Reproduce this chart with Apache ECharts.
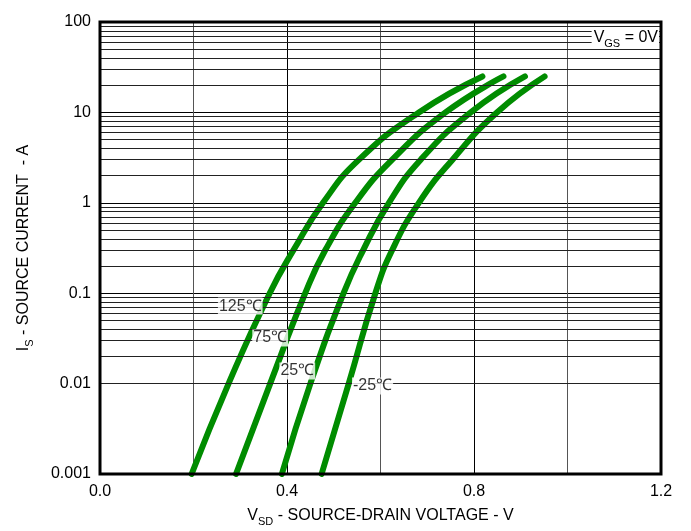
<!DOCTYPE html>
<html>
<head>
<meta charset="utf-8">
<script src="https://cdn.jsdelivr.net/npm/echarts@6/dist/echarts.min.js"></script>
<style>
  html, body { margin: 0; padding: 0; background: #fff; }
  #chart { width: 691px; height: 531px; }
</style>
</head>
<body>
<div id="chart"></div>
<script>
// Source current levels (A) at which each curve's forward voltage is given
const currents = [0.001, 0.01, 0.1, 0.3, 1, 3, 10, 25];

// Source-drain voltage (V) per junction temperature
const vsd125 = [0.196, 0.275, 0.363, 0.414, 0.477, 0.554, 0.682, 0.818];
const vsd75  = [0.291, 0.364, 0.439, 0.482, 0.546, 0.625, 0.739, 0.863];
const vsd25  = [0.389, 0.450, 0.521, 0.563, 0.618, 0.686, 0.793, 0.909];
const vsdM25 = [0.474, 0.532, 0.589, 0.625, 0.682, 0.754, 0.849, 0.951];

const curveNames = ['125℃', '75℃', '25℃', '-25℃'];
// Where each temperature tag sits on the chart: [V, A]
const tagPoints = [[0.300, 0.072], [0.364, 0.0319], [0.422, 0.01377], [0.583, 0.0094]];

const xTicks = [0, 0.4, 0.8, 1.2];
const yTicks = ['0.001', '0.01', '0.1', '1', '10', '100'];

// Minor log grid lines: 2..9 within every decade
const decades = [0.001, 0.01, 0.1, 1, 10];
const minorLevels = [];
decades.forEach(d => { for (let m = 2; m <= 9; m++) minorLevels.push(+(d * m).toPrecision(3)); });

const green = '#008c00';
const font = 'Liberation Sans, Arial, sans-serif';

function pairs(v) { return v.map((x, i) => [x, currents[i]]); }

const curveSeries = [vsd125, vsd75, vsd25, vsdM25].map((v, i) => ({
  name: curveNames[i],
  type: 'line',
  data: pairs(v),
  smooth: 0.5,
  showSymbol: false,
  symbol: 'none',
  silent: true,
  z: 3,
  lineStyle: { color: green, width: 6, cap: 'round', join: 'round' }
}));

const chart = echarts.init(document.getElementById('chart'), null, { renderer: 'canvas' });

chart.setOption({
  animation: false,
  backgroundColor: '#fff',
  grid: {
    left: 100, right: 30, top: 22, bottom: 57,
    outerBoundsMode: 'none',
    containLabel: false,
    show: true, borderColor: '#000', borderWidth: 3, backgroundColor: 'transparent', z: 10
  },
  xAxis: {
    type: 'value',
    min: 0, max: 1.2, interval: 0.4,
    axisLine: { show: false },
    axisTick: { show: false },
    axisLabel: {
      color: '#000', fontFamily: font, fontSize: 16, margin: 10,
      formatter: v => xTicks.some(t => Math.abs(t - v) < 1e-9) ? v.toFixed(1) : ''
    },
    splitLine: { show: true, lineStyle: { color: '#000', width: 1 } },
    minorTick: { show: false, splitNumber: 2 },
    minorSplitLine: { show: true, lineStyle: { color: '#555', width: 1 } },
    name: '{v|V}{sub|SD}{v| - SOURCE-DRAIN VOLTAGE - V}',
    nameLocation: 'middle',
    nameGap: 28,
    nameTextStyle: {
      color: '#000', fontFamily: font, fontSize: 16,
      rich: {
        v: { fontFamily: font, fontSize: 16, color: '#000', lineHeight: 22, verticalAlign: 'bottom' },
        sub: { fontFamily: font, fontSize: 11, color: '#000', lineHeight: 22, verticalAlign: 'bottom', padding: [0, 0, -3, 0] }
      }
    }
  },
  yAxis: {
    type: 'log',
    logBase: 10,
    min: 0.001, max: 100,
    axisLine: { show: false },
    axisTick: { show: false },
    axisLabel: {
      color: '#000', fontFamily: font, fontSize: 16, margin: 9,
      formatter: v => {
        const idx = Math.round(Math.log10(v)) + 3;
        return yTicks[idx] !== undefined ? yTicks[idx] : '';
      }
    },
    splitLine: { show: true, lineStyle: { color: '#000', width: 1 } },
    name: '{v|I}{sub|S}{v| - SOURCE CURRENT  - A}',
    nameLocation: 'middle',
    nameGap: 68,
    nameRotate: 90,
    nameTextStyle: {
      color: '#000', fontFamily: font, fontSize: 16,
      rich: {
        v: { fontFamily: font, fontSize: 16, color: '#000', lineHeight: 22, verticalAlign: 'bottom' },
        sub: { fontFamily: font, fontSize: 11, color: '#000', lineHeight: 22, verticalAlign: 'bottom', padding: [0, 0, -3, 0] }
      }
    }
  },
  series: [
    {
      name: 'minor grid',
      type: 'line',
      data: [],
      silent: true,
      z: 1,
      markLine: {
        silent: true,
        symbol: 'none',
        animation: false,
        label: { show: false },
        lineStyle: { color: '#222', width: 1, type: 'solid' },
        data: minorLevels.map(v => ({ yAxis: v }))
      }
    },
    ...curveSeries,
    {
      name: 'tags',
      type: 'scatter',
      symbolSize: 0,
      silent: true,
      z: 5,
      data: tagPoints.map((p, i) => ({ value: p, name: curveNames[i] })),
      label: {
        show: true,
        position: 'inside',
        formatter: p => p.name,
        color: '#000',
        fontFamily: font,
        fontSize: 16,
        backgroundColor: '#fff',
        padding: [1, 1, 0, 1]
      }
    }
  ],
  graphic: [
    {
      type: 'text',
      right: 32,
      top: 27,
      z: 20,
      style: {
        text: '{v|V}{sub|GS}{v| = 0V}',
        backgroundColor: '#fff',
        padding: [0, 1, 0, 2],
        rich: {
          v: { fontFamily: font, fontSize: 16, fill: '#000', lineHeight: 19, verticalAlign: 'bottom' },
          sub: { fontFamily: font, fontSize: 11, fill: '#000', lineHeight: 19, verticalAlign: 'bottom', padding: [0, 0, -3, 0] }
        }
      }
    }
  ]
});
</script>
</body>
</html>
